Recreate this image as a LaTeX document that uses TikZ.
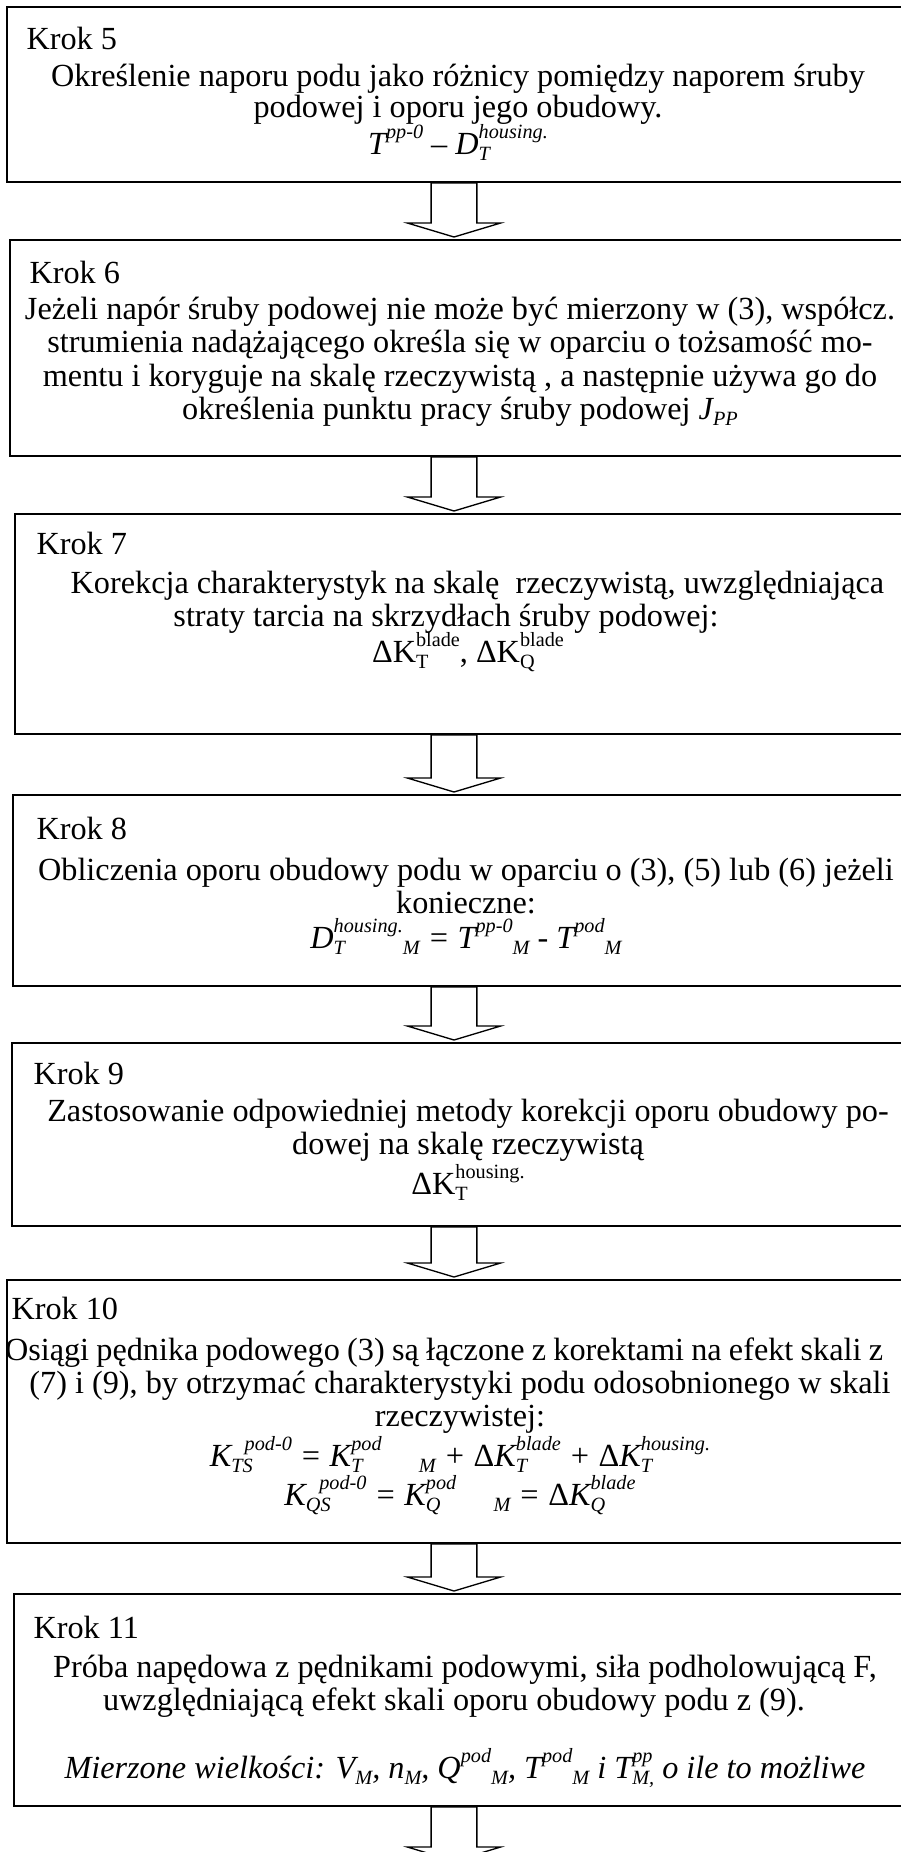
\documentclass[tikz,border=0pt]{standalone}
\usepackage{fontspec}
\setmainfont{Liberation Serif}
\usetikzlibrary{calc}

\newcommand{\px}{0.3754pt}
\newcommand{\bodyfont}{\fontsize{12.1pt}{12.6pt}\selectfont\lineskiplimit=-100pt\relax}
\newcommand{\Sup}[1]{\raisebox{0.5em}{\fontsize{7.6pt}{7.6pt}\selectfont#1}}
\newcommand{\Sub}[1]{\raisebox{-0.18em}{\fontsize{7.6pt}{7.6pt}\selectfont#1}}
\newcommand{\SupSub}[2]{\ooalign{\Sup{#1}\cr\Sub{#2}\cr}}
\newcommand{\gap}[1]{\makebox[#1]{}}
\newcommand{\shaftw}{8.6pt}
\newcommand{\headw}{17.5pt}
\newcommand{\headh}{6pt}
\newcommand{\tipgap}{0.75pt}
\newcommand{\steparrow}[2]{%
	\draw[blockarrow] let \p1=(#1 -| ax), \p2=(#2 -| ax) in
		(\x1-\shaftw,\y1) -- (\x1-\shaftw,\y2+\headh) -- (\x1-\headw,\y2+\headh)
		-- (\x1,\y2+\tipgap) -- (\x1+\headw,\y2+\headh) -- (\x1+\shaftw,\y2+\headh)
		-- (\x1+\shaftw,\y1) -- cycle;}

\begin{document}
\begin{tikzpicture}[
	x=\px, y=-\px,
	stepbox/.style = {
		draw, line width=0.75pt, anchor=north west,
		inner sep=0pt, minimum width=339.7pt},
	kroklabel/.style = {inner sep=0pt, anchor=base west, font=\bodyfont},
	steptext/.style = {
		inner sep=0pt, anchor=base, align=flush center,
		text width=341.6pt, font=\bodyfont},
	blockarrow/.style = {draw, line width=0.5pt, line join=miter}
]
\fill[white] (0,0) rectangle (901,1852);
\useasboundingbox (0,0) rectangle (901,1852);
\clip (0,0) rectangle (901,1852);

\node[stepbox, minimum height=175*\px] (b5) at (6,6) {};
\node[kroklabel] (k5) at ($(b5.north west)+(20,43)$) {Krok 5};
\node[steptext] (t5) at ($(b5.north west)+(452,80)$)
	{Określenie naporu podu jako różnicy pomiędzy naporem śruby\\[-0.8pt]
	 podowej i oporu jego obudowy.\\[1.4pt]
	 \textit{T\Sup{pp-0}} \textup{–} \textit{D\SupSub{housing.}{T}}};

\node[stepbox, minimum height=216*\px] (b6) at (9,239) {};
\node[kroklabel] (k6) at ($(b6.north west)+(20,44)$) {Krok 6};
\node[steptext] (t6) at ($(b6.north west)+(451,80)$)
	{Jeżeli napór śruby podowej nie może być mierzony w (3), współcz.\\
	 strumienia nadążającego określa się w oparciu o tożsamość mo-\\
	 mentu i koryguje na skalę rzeczywistą , a następnie używa go do\\
	 określenia punktu pracy śruby podowej \textit{J\Sub{PP}}};

\node[stepbox, minimum height=220*\px] (b7) at (14,513) {};
\node[kroklabel] (k7) at ($(b7.north west)+(22,41)$) {Krok 7};
\node[steptext] (t7) at ($(b7.north west)+(448,80)$)
	{\gap{11.6pt}Korekcja charakterystyk na skalę~ rzeczywistą, uwzględniająca\\
	 straty tarcia na skrzydłach śruby podowej:\gap{12pt}\\[1pt]
	 \gap{4.5pt}ΔK\SupSub{blade}{T}, ΔK\SupSub{blade}{Q}};

\node[stepbox, minimum height=191*\px] (b8) at (12,794) {};
\node[kroklabel] (k8) at ($(b8.north west)+(24,45)$) {Krok 8};
\node[steptext] (t8) at ($(b8.north west)+(454,86)$)
	{Obliczenia oporu obudowy podu w oparciu o (3), (5) lub (6) jeżeli\\
	 konieczne:\\[0.6pt]
	 \textit{D\SupSub{housing.}{T}\Sub{M} = T\Sup{pp-0}\Sub{M}} \textup{-} \textit{T\Sup{pod}\Sub{M}}};

\node[stepbox, minimum height=183*\px] (b9) at (11,1042) {};
\node[kroklabel] (k9) at ($(b9.north west)+(22,42)$) {Krok 9};
\node[steptext] (t9) at ($(b9.north west)+(457,79)$)
	{Zastosowanie odpowiedniej metody korekcji oporu obudowy po-\\
	 dowej na skalę rzeczywistą\\[2.4pt]
	 ΔK\SupSub{housing.}{T}};

\node[stepbox, minimum height=263*\px] (b10) at (6,1279) {};
\node[kroklabel] (k10) at ($(b10.north west)+(5,40)$) {Krok 10};
\node[steptext] (t10) at ($(b10.north west)+(454,81)$)
	{Osiągi pędnika podowego (3) są łączone z korektami na efekt skali z\gap{12pt}\\
	 (7) i (9), by otrzymać charakterystyki podu odosobnionego w skali\\[-0.4pt]
	 rzeczywistej:\\[2.6pt]
	 \textit{K\SupSub{\kern5pt pod-0}{TS} = K\SupSub{pod}{T}\kern14pt\Sub{M} + \textup{Δ}K\SupSub{blade}{T} + \textup{Δ}K\SupSub{housing.}{T}}\\[2pt]
	 \textit{K\SupSub{\kern5pt pod-0}{QS} = K\SupSub{pod}{Q}\kern14pt\Sub{M} = \textup{Δ}K\SupSub{blade}{Q}}};

\node[stepbox, minimum height=212*\px] (b11) at (13,1593) {};
\node[kroklabel] (k11) at ($(b11.north west)+(20,45)$) {Krok 11};
\node[steptext] (t11) at ($(b11.north west)+(452,84)$)
	{Próba napędowa z pędnikami podowymi, siła podholowującą F,\\
	 uwzględniającą efekt skali oporu obudowy podu z (9).\gap{8.3pt}\\[12.8pt]
	 \textit{Mierzone wielkości: V\Sub{M}, n\Sub{M}, Q\Sup{pod}\Sub{M}, T\Sup{pod}\Sub{M} i T\SupSub{pp}{M,} o ile to możliwe}};

\coordinate (ax) at (454,0);
\coordinate (e11) at (454,1863);
\steparrow{b5.south}{b6.north}
\steparrow{b6.south}{b7.north}
\steparrow{b7.south}{b8.north}
\steparrow{b8.south}{b9.north}
\steparrow{b9.south}{b10.north}
\steparrow{b10.south}{b11.north}
\steparrow{b11.south}{e11}
\end{tikzpicture}
\end{document}
